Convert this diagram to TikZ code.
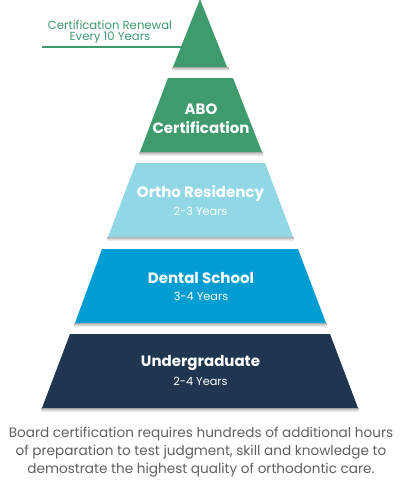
\documentclass[tikz,border=0pt]{standalone}
\usepackage{fontspec}
\setmainfont{Poppins}
\definecolor{cgreen}{HTML}{3F9A6E}
\definecolor{clight}{HTML}{92D7E6}
\definecolor{cblue}{HTML}{009DD3}
\definecolor{cnavy}{HTML}{1F3550}
\definecolor{cgray}{HTML}{606060}
\begin{document}
\begin{tikzpicture}[x=1pt,y=-1pt,
  lbl/.style={text=white,font=\bfseries\fontsize{15}{17}\selectfont,inner sep=0pt},
  sub/.style={text=white,font=\fontsize{11.3}{13}\selectfont,inner sep=0pt},
  captxt/.style={text=cgray,font=\fontsize{13.6}{15}\selectfont,inner sep=0pt},
  shad/.style={top color=black!30,bottom color=white}]
\useasboundingbox (0,0) rectangle (402,480);
% shadows
\shade[shad] (172,67) rectangle (229,71);
\shade[shad] (139,152) rectangle (263,156);
\shade[shad] (107,237) rectangle (294,241);
\shade[shad] (74,323) rectangle (327,327);
\shade[shad] (41,408) rectangle (359,412);
% tiers
\fill[cgreen] (200,-1) -- (227,67) -- (173,67) -- cycle;
\fill[cgreen] (168,78) -- (233,78) -- (262,152) -- (140,152) -- cycle;
\fill[clight] (136,163) -- (265,163) -- (293,237) -- (108,237) -- cycle;
\fill[cblue] (102,249) -- (298,249) -- (326,323) -- (75,323) -- cycle;
\fill[cnavy] (70,334) -- (330,334) -- (358,408) -- (42,408) -- cycle;
% renewal label
\node[text=cgreen,font=\fontsize{11.7}{13}\selectfont,inner sep=0pt,align=center] (renew) at (110,32) {Certification Renewal\\[-1.5pt]Every 10 Years};
\coordinate (lineL) at (42,47);
\coordinate (lineR) at (181.5,47);
\draw[cgreen,line width=1.6pt] (lineL) -- (lineR);
% tier labels
\node[lbl] (abo1) at (201,109) {ABO};
\node[lbl] (abo2) at (201,128) {Certification};
\node[lbl] (ortho) at (200.5,193) {Ortho Residency};
\node[sub] (ortho2) at (200.5,211) {2-3 Years};
\node[lbl] (dental) at (201,278) {Dental School};
\node[sub] (dental2) at (201,296) {3-4 Years};
\node[lbl] (under) at (200.5,363) {Undergraduate};
\node[sub] (under2) at (200.5,381) {2-4 Years};
% caption
\node[captxt] (c1) at (201,434) {Board certification requires hundreds of additional hours};
\node[captxt] (c2) at (201,452) {of preparation to test judgment, skill and knowledge to};
\node[captxt] (c3) at (201,470) {demostrate the highest quality of orthodontic care.};
\end{tikzpicture}
\end{document}
